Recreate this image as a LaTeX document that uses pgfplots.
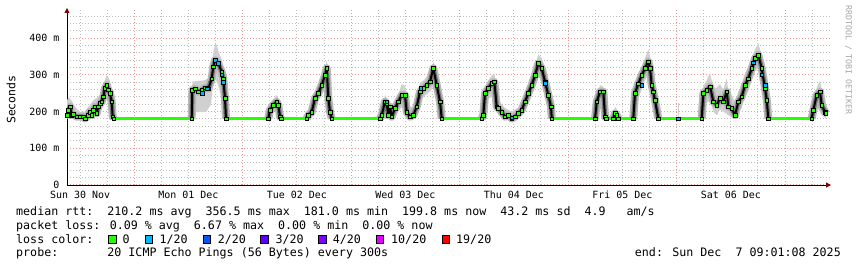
\documentclass[border=0pt]{standalone}
\usepackage{pgfplots}
\pgfplotsset{compat=1.18}
\usepackage{pgfplotstable}
\usepackage{fontspec}
\setmainfont{DejaVu Sans Mono}
\newfontfamily\mono{DejaVu Sans Mono}
\usetikzlibrary{arrows.meta}
\definecolor{loss0}{HTML}{26FF00}
\definecolor{loss1}{HTML}{00B8FF}
\definecolor{loss2}{HTML}{0059FF}
\definecolor{loss3}{HTML}{5E00FF}
\definecolor{loss4}{HTML}{7E00FF}
\definecolor{loss10}{HTML}{DD00FF}
\definecolor{loss19}{HTML}{FF0000}
\definecolor{smoke}{HTML}{D0D0D0}
\definecolor{mgrid}{RGB}{235,150,150}
\definecolor{sgrid}{RGB}{190,190,190}
\definecolor{arrowred}{RGB}{128,0,0}

% median rtt (ms) during active periods, hours since Sun 30 Nov 00:00
\pgfplotstableread{
x y
9.12 190
9.40 204
9.78 213
10.16 190
10.51 192
11.26 186
12.00 186
12.72 186
13.10 181
13.83 190
14.21 199
14.58 190
14.94 204
15.31 213
15.69 195
16.04 213
16.42 222
16.80 227
17.15 240
17.53 263
17.90 272
18.26 259
18.63 250
19.01 227
19.23 186
19.41 181
19.5 nan
36.71 181
36.85 258
37.44 262
38.17 254
38.93 258
39.66 265
40.39 262
41.14 290
41.49 322
41.87 340
42.60 331
43.35 308
43.71 290
44.08 236
44.30 181
44.4 nan
53.67 181
54.04 204
54.77 218
55.52 227
55.88 218
56.26 186
56.48 181
56.6 nan
62.16 181
62.52 190
63.27 199
64.00 236
64.73 250
65.48 272
66.21 299
66.59 318
66.95 236
67.32 199
67.70 181
67.8 nan
78.38 181
78.76 190
79.49 227
79.86 222
80.22 190
80.60 213
80.97 186
81.70 209
82.43 227
83.19 245
83.92 245
84.29 199
85.02 186
85.75 190
86.50 213
87.23 254
87.96 263
88.72 272
89.45 281
90.18 318
90.93 272
91.66 227
92.04 181
92.1 nan
100.89 181
101.24 190
101.62 250
102.35 263
103.10 277
103.68 281
104.21 213
104.56 209
105.32 199
106.05 186
106.78 190
107.54 181
108.27 186
108.99 195
109.74 204
110.47 227
111.20 250
111.96 272
112.69 299
113.42 331
114.17 318
114.90 281
115.63 245
116.23 213
116.38 181
116.5 nan
125.97 181
126.34 227
127.07 254
127.80 254
128.18 186
128.40 181
128.5 nan
130.01 181
130.39 195
130.76 190
131.11 181
131.2 nan
134.43 181
134.81 250
135.54 276
136.30 299
137.02 318
137.75 336
138.13 318
138.50 272
138.86 254
139.23 231
139.96 181
140.0 nan
149.57 181
149.93 250
150.68 258
151.41 268
152.14 227
152.89 218
153.62 236
154.35 227
155.10 254
155.46 213
156.21 209
156.94 190
157.67 227
158.42 240
159.15 272
159.88 290
160.64 318
161.37 345
162.10 354
162.85 318
163.58 263
163.96 231
164.31 181
164.4 nan
173.91 181
174.27 204
175.02 245
175.75 254
176.12 218
176.85 199
177.02 195
}\medact

% flat periods of the median (ms)
\pgfplotstableread{
x y
19.41 181
36.71 181
36.8 nan
44.30 181
53.67 181
53.8 nan
56.48 181
62.16 181
62.3 nan
67.70 181
78.38 181
78.5 nan
92.04 181
100.89 181
101.0 nan
116.38 181
125.97 181
126.0 nan
128.40 181
130.01 181
130.1 nan
131.11 181
134.43 181
134.5 nan
139.96 181
149.57 181
149.6 nan
164.31 181
173.91 181
}\medflat

% medians with 1/20 loss
\pgfplotstableread{
x y
39.06 250
40.10 262
41.87 340
42.60 331
43.35 300
43.64 280
79.86 227
87.39 263
107.50 183
114.90 277
136.30 272
144.40 181
161.00 333
162.85 300
163.60 272
}\medloss

\begin{document}
\begin{tikzpicture}
\useasboundingbox (0,0) rectangle (857bp,267bp);
\begin{axis}[
  at={(67bp,82bp)}, anchor=south west,
  scale only axis, width=764bp, height=177bp,
  xmin=9.12, xmax=178.18, ymin=0, ymax=482,
  axis lines=left,
  axis line style={black, line width=0.9bp},
  x axis line style={-{Triangle[length=5bp,width=5bp,color=arrowred]}},
  y axis line style={-{Triangle[length=5bp,width=5bp,color=arrowred]}},
  major tick length=0pt, minor tick length=0pt,
  xtick={12,36,60,84,108,132,156},
  xticklabels={Sun 30 Nov,Mon 01 Dec,Tue 02 Dec,Wed 03 Dec,Thu 04 Dec,Fri 05 Dec,Sat 06 Dec},
  minor xtick={12,18,30,36,42,54,60,66,78,84,90,102,108,114,126,132,138,150,156,162,174},
  extra x ticks={24,48,72,96,120,144,168},
  extra x tick labels={},
  extra x tick style={grid=major},
  ytick={0,100,200,300,400},
  yticklabels={0,100 m,200 m,300 m,400 m},
  minor ytick={20,40,60,80,120,140,160,180,220,240,260,280,320,340,360,380,420,440,460},
  xminorgrids=true, ymajorgrids=true, yminorgrids=true,
  major grid style={mgrid, line width=1bp, dash pattern=on 1bp off 2bp},
  minor grid style={sgrid, line width=1bp, dash pattern=on 1bp off 2bp},
  tick label style={font=\mono\fontsize{10}{12}\selectfont, inner sep=0pt},
  xticklabel style={yshift=-5.5bp},
  yticklabel style={xshift=-7.5bp},
  unbounded coords=jump,
]
% smoke (spread of the 20 pings)
\addplot[fill=smoke, draw=none] coordinates {(9.12,181)(9.12,230)(9.5,240)(10,232)(11,212)(12,200)(13,200)(14,215)(15,232)(16,240)(16.8,250)(17.2,275)(17.9,300)(18.6,285)(19.1,255)(19.41,181)(19,205)(18.3,235)(17.5,240)(17,215)(16,195)(15,185)(13,181)};
\addplot[fill=smoke, draw=none] coordinates {(36.71,181)(36.85,282)(38,283)(39.5,285)(40.4,290)(41.1,320)(41.5,360)(41.9,385)(42.3,380)(42.6,365)(43.4,340)(43.7,315)(44.1,265)(44.3,181)(44.1,200)(43.4,235)(42.6,270)(41.9,290)(41.4,270)(41,220)(40,200)(38,198)(36.85,200)};
\addplot[fill=smoke, draw=none] coordinates {(53.67,181)(54.04,212)(54.8,232)(55.5,245)(55.9,235)(56.26,200)(56.48,181)(55.9,200)(55.2,205)(54.5,195)};
\addplot[fill=smoke, draw=none] coordinates {(62.16,181)(62.5,200)(63.3,215)(64,250)(64.7,268)(65.5,292)(66.2,320)(66.6,338)(67,300)(67.3,235)(67.7,181)(67.3,190)(66.8,215)(66.2,265)(65.5,250)(64.7,230)(64,215)(63.3,190)};
\addplot[fill=smoke, draw=none] coordinates {(78.38,181)(78.76,205)(79.5,245)(80.2,230)(81,215)(81.7,225)(82.4,245)(83.2,275)(83.9,270)(84.3,245)(85,215)(85.7,210)(86.5,235)(87.2,278)(88,285)(88.7,295)(89.5,305)(90.2,335)(90.9,315)(91.66,260)(92.04,181)(91.66,200)(90.9,245)(90.2,270)(89.5,255)(88,240)(87.2,225)(86.5,195)(85.7,181)(84.3,183)(83.5,215)(82.4,200)(81.7,190)(80.6,190)(79.5,200)(78.76,182)};
\addplot[fill=smoke, draw=none] coordinates {(100.89,181)(101.24,210)(101.62,268)(102.35,285)(103.1,298)(103.68,305)(104.2,260)(105,225)(106,210)(107.5,200)(109,210)(110.5,250)(111.2,270)(112,295)(112.7,325)(113.4,355)(114.2,345)(114.9,315)(115.6,270)(116.2,235)(116.38,181)(116.2,190)(115.6,220)(114.9,255)(114.2,285)(113.4,295)(112.7,270)(112,245)(110.5,205)(109,185)(107.5,181)(106,181)(104.6,190)(103.7,245)(102.4,235)(101.62,215)(101.24,181)};
\addplot[fill=smoke, draw=none] coordinates {(125.97,181)(126.34,245)(127.07,272)(127.8,268)(128.18,210)(128.4,181)(127.8,232)(127.07,232)(126.34,205)};
\addplot[fill=smoke, draw=none] coordinates {(130.01,181)(130.39,215)(130.76,205)(131.11,181)};
\addplot[fill=smoke, draw=none] coordinates {(134.43,181)(134.81,275)(135.54,295)(136.3,322)(137.02,345)(137.75,370)(138.13,350)(138.5,310)(138.86,280)(139.23,260)(139.96,181)(139.23,205)(138.86,225)(138.5,240)(138.13,280)(137.75,300)(137.02,285)(136.3,260)(135.54,235)(134.81,215)};
\addplot[fill=smoke, draw=none] coordinates {(149.57,181)(149.93,270)(150.68,285)(151.41,305)(152.14,265)(152.89,265)(153.62,275)(154.35,260)(155.1,290)(155.46,255)(156.21,245)(156.94,225)(157.67,255)(158.42,270)(159.15,305)(159.88,320)(160.64,345)(161.37,370)(162.1,385)(162.85,355)(163.58,300)(163.96,255)(164.31,181)(163.96,200)(163.58,225)(162.85,280)(162.1,318)(161.37,310)(160.64,285)(159.88,255)(159.15,240)(158.42,210)(157.67,195)(156.94,181)(156.21,185)(155.46,190)(154.35,200)(153.62,205)(152.89,190)(152.14,200)(151.41,230)(150.68,225)(149.93,205)};
\addplot[fill=smoke, draw=none] coordinates {(173.91,181)(174.27,222)(175.02,265)(175.75,285)(176.12,260)(176.85,235)(177.02,225)(177.02,181)(176.12,190)(175.02,215)(174.27,190)};
\addplot[smoke, line width=1.2bp] coordinates {(144.4,181)(144.4,222)};
% dense smoke around the median
\addplot[black!28, line width=8bp, line join=round, line cap=butt] table {\medact};
\addplot[black!55, line width=4.5bp, line join=round, line cap=butt] table {\medact};
\addplot[black, line width=2bp, line join=round] table {\medact};
% median coloured by loss
\addplot[loss0, line width=3bp] table {\medflat};
\addplot[only marks, mark=square*, mark size=1.8bp, mark options={draw=none, fill=loss0}] table {\medact};
\addplot[only marks, mark=square*, mark size=1.8bp, mark options={draw=none, fill=loss1}] table {\medloss};
\end{axis}

\node[rotate=90, font=\mono\fontsize{11.5}{13}\selectfont, inner sep=0pt] at (11bp,167.3bp) {Seconds};
\node[rotate=-90, anchor=west, font=\mono\fontsize{8.3}{9}\selectfont, text=black!35, inner sep=0pt] at (848.5bp,262bp) {RRDTOOL / TOBI OETIKER};

\begin{scope}[every node/.style={inner sep=0pt, font=\mono\fontsize{11.7}{14}\selectfont}]
\node[anchor=base west] at (16bp,51.7bp) {median rtt:~~210.2 ms avg~~356.5 ms max~~181.0 ms min~~199.8 ms now~~43.2 ms sd~~4.9~~~am/s};
\node[anchor=base west] at (16bp,38bp) {packet loss: 0.09 \% avg~~6.67 \% max~~0.00 \% min~~0.00 \% now};
\node[anchor=base west] at (16bp,23.7bp) {loss color:};
\node[anchor=base west] at (122.5bp,23.7bp) {0};
\node[anchor=base west] at (159.3bp,23.7bp) {1/20};
\node[anchor=base west] at (217.6bp,23.7bp) {2/20};
\node[anchor=base west] at (275.3bp,23.7bp) {3/20};
\node[anchor=base west] at (332.6bp,23.7bp) {4/20};
\node[anchor=base west] at (391bp,23.7bp) {10/20};
\node[anchor=base west] at (456bp,23.7bp) {19/20};
\node[anchor=base west] at (16bp,10.3bp) {probe:~~~~~~~20 ICMP Echo Pings (56 Bytes) every 300s};
\node[anchor=base east] at (841bp,10.3bp) {end: Sun Dec~~7 09:01:08 2025};
\end{scope}
\begin{scope}[every node/.style={draw=black, line width=0.6bp, minimum size=7.5bp, inner sep=0pt}]
\node[fill=loss0] at (112.3bp,27.8bp) {};
\node[fill=loss1] at (149bp,27.8bp) {};
\node[fill=loss2] at (206.7bp,27.8bp) {};
\node[fill=loss3] at (264.3bp,27.8bp) {};
\node[fill=loss4] at (322.3bp,27.8bp) {};
\node[fill=loss10] at (380bp,27.8bp) {};
\node[fill=loss19] at (445.7bp,27.8bp) {};
\end{scope}
\end{tikzpicture}
\end{document}
